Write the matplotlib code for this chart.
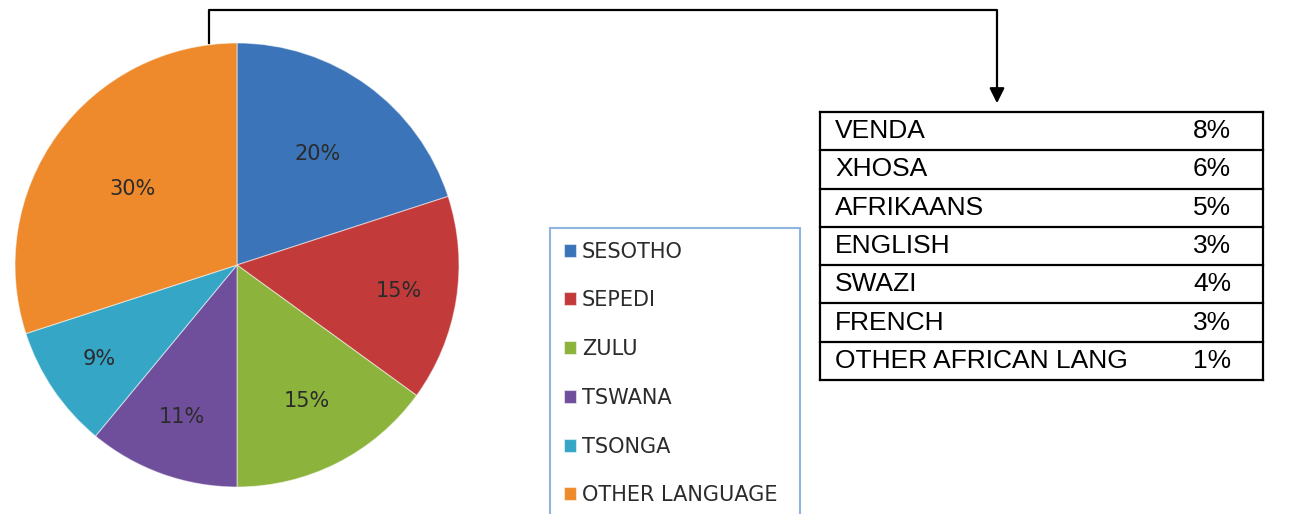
import matplotlib
matplotlib.use("Agg")
import numpy as np
from matplotlib import pyplot as plt

# main languages (pie)
languages = ["SESOTHO", "SEPEDI", "ZULU", "TSWANA", "TSONGA", "OTHER LANGUAGE"]
shares = [20, 15, 15, 11, 9, 30]
colors = ["#3b74b9", "#c23b3a", "#8cb33c", "#6f4f9b", "#35a6c6", "#ef8a2c"]
label_dist = [0.62, 0.74, 0.69, 0.73, 0.75, 0.58]

# breakdown of "other language" (table)
other_langs = ["VENDA", "XHOSA", "AFRIKAANS", "ENGLISH", "SWAZI", "FRENCH", "OTHER AFRICAN LANG"]
other_pcts = ["8%", "6%", "5%", "3%", "4%", "3%", "1%"]

W, H = 1298, 514
fig = plt.figure(figsize=(W / 100, H / 100), dpi=100)

# pie axes, centre ~(237, 265) px, radius ~222 px
cx, cy, r = 237, 265, 222
pax = fig.add_axes([(cx - r) / W, (H - cy - r) / H, 2 * r / W, 2 * r / H])
wedges, texts, autotexts = pax.pie(
    shares, colors=colors, startangle=90, counterclock=False,
    autopct="%d%%", pctdistance=0.62,
    wedgeprops=dict(edgecolor=(1, 1, 1, 0.5), linewidth=0.8),
    textprops=dict(fontsize=15, color="#2b2b2b"))
for w, t, d in zip(wedges, autotexts, label_dist):
    mid = np.deg2rad((w.theta1 + w.theta2) / 2)
    t.set_position((d * np.cos(mid), d * np.sin(mid)))
pax.set_xlim(-1, 1)
pax.set_ylim(-1, 1)
pax.set_aspect("equal")

# overlay in pixel coordinates for legend, table and connector
ax = fig.add_axes([0, 0, 1, 1], facecolor="none")
ax.set_xlim(0, W)
ax.set_ylim(H, 0)
ax.axis("off")

leg = ax.legend(wedges, languages, loc="upper left",
                bbox_to_anchor=(550, 228, 250, 0), bbox_transform=ax.transData,
                mode="expand",
                borderaxespad=0, borderpad=0.65, fontsize=15,
                handlelength=0.58, handleheight=0.58, handletextpad=0.3,
                labelspacing=1.38, fancybox=False, framealpha=1)
leg.get_frame().set_edgecolor("#8fb4e0")
leg.get_frame().set_linewidth(1.5)
for t in leg.get_texts():
    t.set_color("#2b2b2b")

# connector line with arrow
ax.plot([209, 209, 997, 997], [43, 10, 10, 95], color="black", lw=1.6)
ax.annotate("", xy=(997, 106), xytext=(997, 92),
            arrowprops=dict(arrowstyle="-|>,head_width=0.45,head_length=0.9",
                            color="black", lw=1.6))

# table
x0, x1, y0 = 820, 1263, 112
row_h = (380 - y0) / len(other_langs)
ax.plot([x0, x0], [y0, 380], color="black", lw=1.6)
ax.plot([x1, x1], [y0, 380], color="black", lw=1.6)
for i in range(len(other_langs) + 1):
    ax.plot([x0, x1], [y0 + i * row_h] * 2, color="black", lw=1.6)
for i, (name, pct) in enumerate(zip(other_langs, other_pcts)):
    y = y0 + (i + 0.5) * row_h
    ax.text(835, y, name, fontsize=19, family="Liberation Sans", va="center", ha="left")
    ax.text(1212, y, pct, fontsize=19, family="Liberation Sans", va="center", ha="center")

fig.savefig("out.png", dpi=100)
